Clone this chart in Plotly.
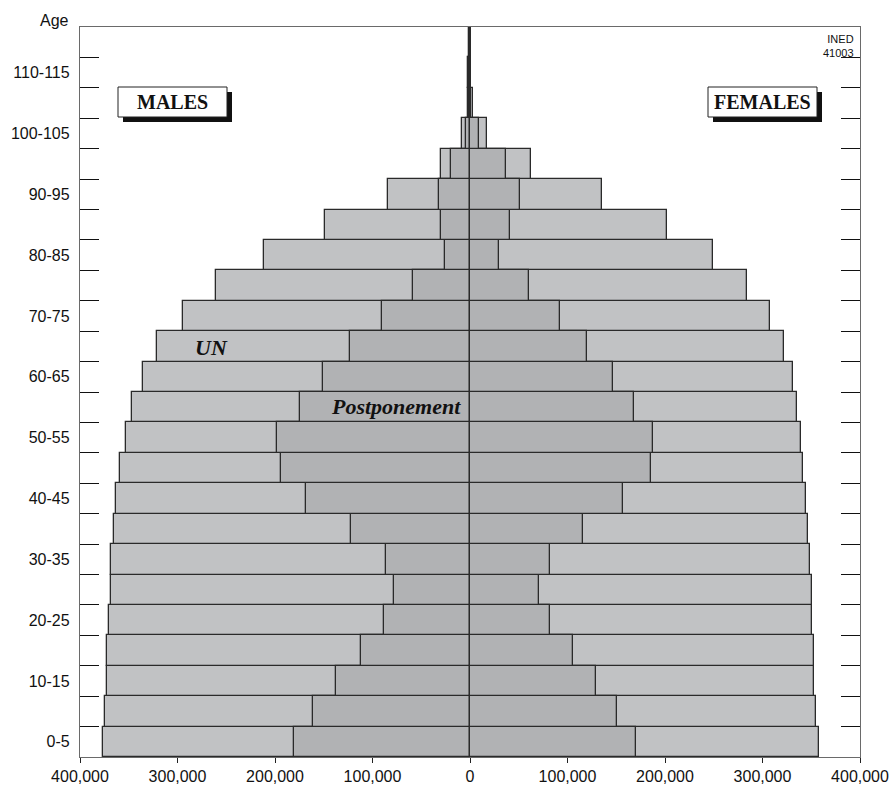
import plotly.graph_objects as go

# ---------------- data (thousands of persons) ----------------
age_groups = ["0-5", "5-10", "10-15", "15-20", "20-25", "25-30", "30-35", "35-40",
              "40-45", "45-50", "50-55", "55-60", "60-65", "65-70", "70-75", "75-80",
              "80-85", "85-90", "90-95", "95-100", "100-105", "105-110", "110-115", "115-120"]
age_lower = [0, 5, 10, 15, 20, 25, 30, 35, 40, 45, 50, 55, 60, 65, 70, 75,
             80, 85, 90, 95, 100, 105, 110, 115]

male_un = [376.6, 374.0, 372.0, 372.0, 370.2, 367.9, 367.9, 365.4, 363.4, 359.3, 352.8, 346.3,
           335.7, 320.7, 294.6, 260.4, 210.9, 148.3, 83.6, 30.0, 8.5, 2.2, 2.0, 1.2]
male_post = [180.5, 161.2, 137.6, 111.6, 88.0, 77.5, 85.7, 122.2, 167.8, 193.4, 197.8, 174.2,
             150.6, 122.9, 90.1, 58.0, 25.8, 29.9, 32.3, 19.2, 4.5, 1.0, 0.8, 0.5]
female_un = [357.5, 354.9, 352.5, 352.5, 350.4, 350.4, 348.4, 346.3, 344.3, 341.9, 339.5, 335.4,
             330.9, 322.5, 307.4, 283.8, 249.6, 202.0, 135.1, 62.2, 17.4, 3.4, 1.2, 1.0]
female_post = [170.6, 150.7, 129.2, 105.6, 81.6, 71.0, 81.6, 116.2, 157.2, 185.2, 187.3, 167.8,
               146.3, 120.4, 92.7, 60.5, 30.0, 40.9, 51.5, 36.6, 9.2, 1.5, 0.6, 0.5]

x_ticks = [-400000, -300000, -200000, -100000, 0, 100000, 200000, 300000, 400000]
x_tick_text = ["400,000", "300,000", "200,000", "100,000", "0",
               "100,000", "200,000", "300,000", "400,000"]

# ---------------- styling ----------------
LIGHT = "#c1c2c4"
DARK = "#b1b2b4"
EDGE = "#2a2a2a"
AXIS = "#6a6a6a"
SANS = "Liberation Sans, Arial, sans-serif"
SERIF = "Liberation Serif, Times New Roman, serif"

W, H = 893, 789
ML, MR, MT, MB = 80, 33, 27, 32
PW, PH = W - ML - MR, H - MT - MB

def px(x):
    return (x - ML) / PW

def py(y):
    return (H - MB - y) / PH

centers = [a + 2.5 for a in age_lower]
bounds = [a for a in age_lower if a > 0]
label_idx = [i for i in range(0, 23, 2)]

fig = go.Figure()
bar_line = dict(color=EDGE, width=1.3)
fig.add_trace(go.Bar(y=centers, x=[-v * 1000 for v in male_un], orientation="h", width=5,
                     marker=dict(color=LIGHT, line=bar_line), name="UN males"))
fig.add_trace(go.Bar(y=centers, x=[v * 1000 for v in female_un], orientation="h", width=5,
                     marker=dict(color=LIGHT, line=bar_line), name="UN females"))
fig.add_trace(go.Bar(y=centers, x=[-v * 1000 for v in male_post], orientation="h", width=5,
                     marker=dict(color=DARK, line=bar_line), name="Postponement males"))
fig.add_trace(go.Bar(y=centers, x=[v * 1000 for v in female_post], orientation="h", width=5,
                     marker=dict(color=DARK, line=bar_line), name="Postponement females"))

fig.update_layout(
    width=W, height=H,
    margin=dict(l=ML, r=MR, t=MT, b=MB, pad=0),
    barmode="overlay",
    bargap=0,
    showlegend=False,
    plot_bgcolor="white",
    paper_bgcolor="white",
    font=dict(family=SANS, size=16, color="#111"),
    xaxis=dict(
        range=[-400000, 400000],
        tickmode="array", tickvals=x_ticks, ticktext=x_tick_text,
        ticks="outside", ticklen=5, tickcolor="#222", tickwidth=1.2,
        showline=True, linecolor=AXIS, linewidth=1.3, mirror=True,
        showgrid=False, zeroline=False, automargin=False,
        tickfont=dict(family=SANS, size=16, color="#111"),
        fixedrange=True,
    ),
    yaxis=dict(
        range=[0, 120],
        tickmode="array", tickvals=[centers[i] for i in label_idx],
        ticktext=[age_groups[i] for i in label_idx],
        ticks="", ticklabelstandoff=6,
        minor=dict(tickmode="array", tickvals=bounds, ticks="inside", ticklen=19,
                   tickcolor="#111", tickwidth=1.3, showgrid=False),
        showline=True, linecolor=AXIS, linewidth=1.3, mirror="ticks",
        showgrid=False, zeroline=False, automargin=False,
        tickfont=dict(family=SANS, size=16, color="#111"),
        fixedrange=True,
    ),
)

shapes = []
for (x0, x1) in [(118, 227), (708, 817)]:
    shapes.append(dict(type="rect", xref="paper", yref="paper",
                       x0=px(x0 + 5), x1=px(x1 + 5), y0=py(122), y1=py(92),
                       fillcolor="#111", line=dict(width=0), layer="above"))
    shapes.append(dict(type="rect", xref="paper", yref="paper",
                       x0=px(x0), x1=px(x1), y0=py(117), y1=py(87),
                       fillcolor="white", line=dict(color="#222", width=1), layer="above"))
fig.update_layout(shapes=shapes)

def note(text, x, y, size, family, xanchor="center", yanchor="middle", align="center"):
    return dict(text=text, x=px(x), y=py(y), xref="paper", yref="paper",
                xanchor=xanchor, yanchor=yanchor, align=align, showarrow=False,
                font=dict(family=family, size=size, color="#111"))

annotations = [
    note("Age", 54, 20, 16, SANS),
    note("INED<br>41003", 856, 31, 11, SANS, xanchor="right", yanchor="top", align="right"),
    note("<b>MALES</b>", 172.5, 102, 20, SERIF),
    note("<b>FEMALES</b>", 762.5, 102, 20, SERIF),
    note("<b><i>UN</i></b>", 211, 347, 22, SERIF),
    note("<b><i>Postponement</i></b>", 396, 406, 22, SERIF),
]
fig.update_layout(annotations=annotations)

fig.write_html(
    "out.html",
    config={"displayModeBar": False},
    post_script="document.body.style.margin='0px';document.body.style.overflow='hidden';",
)
